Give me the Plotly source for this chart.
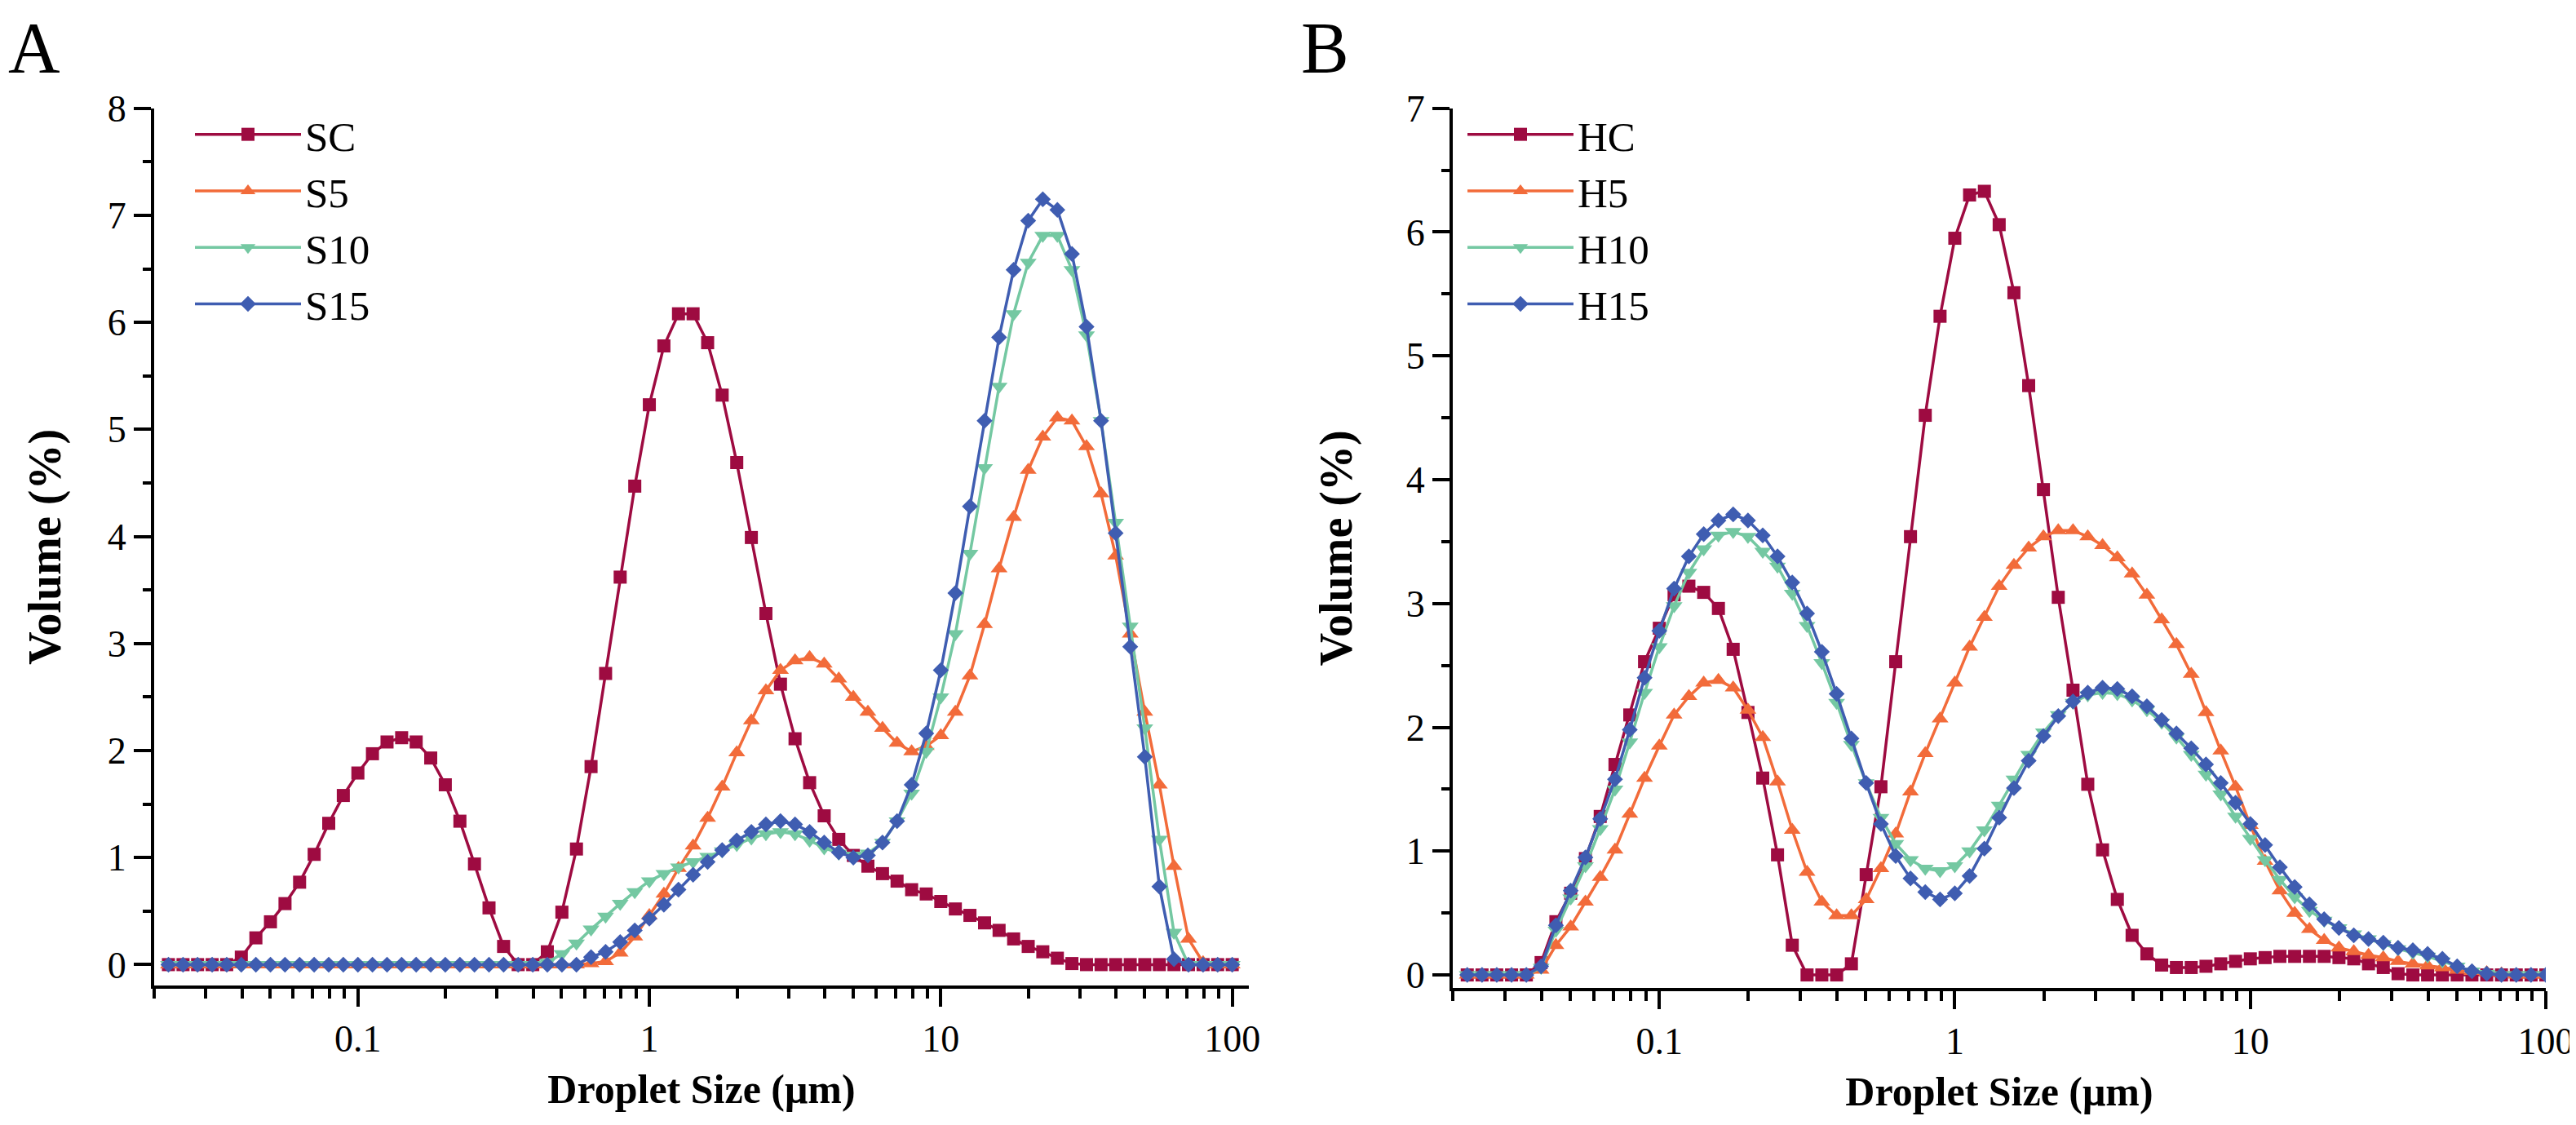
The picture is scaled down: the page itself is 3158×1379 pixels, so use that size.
import plotly.graph_objects as go

# ---------------- data ----------------
droplet_size_um = [
    0.02239, 0.02512, 0.02818, 0.03162, 0.03548, 0.03981, 0.04467, 0.05012, 0.05623, 0.06310,
    0.07079, 0.07943, 0.08913, 0.1, 0.1122, 0.1259, 0.1413, 0.1585, 0.1778, 0.1995,
    0.2239, 0.2512, 0.2818, 0.3162, 0.3548, 0.3981, 0.4467, 0.5012, 0.5623, 0.6310,
    0.7079, 0.7943, 0.8913, 1.0, 1.122, 1.259, 1.413, 1.585, 1.778, 1.995,
    2.239, 2.512, 2.818, 3.162, 3.548, 3.981, 4.467, 5.012, 5.623, 6.310,
    7.079, 7.943, 8.913, 10.0, 11.22, 12.59, 14.13, 15.85, 17.78, 19.95,
    22.39, 25.12, 28.18, 31.62, 35.48, 39.81, 44.67, 50.12, 56.23, 63.10,
    70.79, 79.43, 89.13, 100.0,
]

# Panel A
SC = [0, 0, 0, 0, 0,
      0.07, 0.25, 0.40, 0.57, 0.77, 1.03, 1.32, 1.58,
      1.79, 1.97, 2.08, 2.12, 2.08, 1.93, 1.68, 1.34,
      0.94, 0.53, 0.17, 0.0, 0.0, 0.12, 0.49, 1.08,
      1.85, 2.72, 3.62, 4.47, 5.23, 5.78, 6.08, 6.08,
      5.81, 5.32, 4.69, 3.99, 3.28, 2.62, 2.11, 1.70,
      1.39, 1.17, 1.02, 0.92, 0.85, 0.78, 0.70, 0.66,
      0.59, 0.52, 0.46, 0.39, 0.32, 0.24, 0.17, 0.12,
      0.06, 0.01, 0, 0, 0, 0, 0, 0, 0, 0, 0, 0, 0]
S5 = [0] * 29 + [
      0.01, 0.03, 0.11, 0.26, 0.46, 0.66, 0.90, 1.11,
      1.37, 1.66, 1.98, 2.28, 2.56, 2.75, 2.84, 2.87,
      2.81, 2.67, 2.50, 2.36, 2.21, 2.07, 1.99, 2.04,
      2.14, 2.36, 2.70, 3.18, 3.70, 4.18, 4.62, 4.93,
      5.11, 5.08, 4.84, 4.40, 3.82, 3.09, 2.36, 1.68,
      0.92, 0.24, 0.02, 0, 0]
S10 = [0] * 26 + [
      0.02, 0.10, 0.20, 0.33, 0.45, 0.57, 0.68, 0.78,
      0.85, 0.91, 0.96, 1.01, 1.06, 1.12, 1.18, 1.22,
      1.24, 1.22, 1.16, 1.09, 1.04, 1.02, 1.04, 1.14,
      1.34, 1.60, 1.99, 2.50, 3.09, 3.84, 4.64, 5.40,
      6.08, 6.56, 6.81, 6.81, 6.49, 5.88, 5.08, 4.13,
      3.16, 2.21, 1.17, 0.30, 0.0, 0, 0, 0]
S15 = [0] * 29 + [
      0.07, 0.12, 0.21, 0.32, 0.43, 0.56, 0.70, 0.84,
      0.96, 1.07, 1.16, 1.24, 1.31, 1.34, 1.31, 1.24,
      1.14, 1.05, 1.00, 1.02, 1.14, 1.34, 1.68, 2.16,
      2.75, 3.47, 4.28, 5.08, 5.86, 6.49, 6.95, 7.15,
      7.05, 6.64, 5.96, 5.08, 4.03, 2.97, 1.94, 0.73,
      0.05, 0, 0, 0, 0]

# Panel B
HC = [0, 0, 0, 0, 0,
      0.10, 0.43, 0.66, 0.94, 1.28, 1.70, 2.10, 2.53,
      2.80, 3.07, 3.14, 3.09, 2.96, 2.63, 2.12, 1.59,
      0.97, 0.24, 0.0, 0.0, 0.0, 0.09, 0.81, 1.52,
      2.53, 3.54, 4.52, 5.32, 5.95, 6.30, 6.33, 6.06,
      5.51, 4.76, 3.92, 3.05, 2.30, 1.54, 1.01, 0.61,
      0.32, 0.17, 0.08, 0.06, 0.06, 0.07, 0.09, 0.11,
      0.13, 0.14, 0.15, 0.15, 0.15, 0.15, 0.14, 0.13,
      0.09, 0.06, 0.01, 0, 0, 0, 0, 0, 0, 0, 0, 0, 0]
H5 = [0, 0, 0, 0, 0,
      0.04, 0.24, 0.39, 0.59, 0.79, 1.01, 1.30, 1.59,
      1.85, 2.10, 2.25, 2.36, 2.38, 2.32, 2.14, 1.92,
      1.56, 1.17, 0.83, 0.59, 0.48, 0.48, 0.61, 0.86,
      1.14, 1.48, 1.79, 2.07, 2.36, 2.65, 2.89, 3.14,
      3.31, 3.45, 3.54, 3.59, 3.59, 3.54, 3.47, 3.37,
      3.24, 3.07, 2.87, 2.67, 2.43, 2.12, 1.81, 1.52,
      1.21, 0.92, 0.68, 0.50, 0.37, 0.28, 0.22, 0.19,
      0.16, 0.14, 0.11, 0.09, 0.075, 0.06, 0.04, 0.03, 0.02, 0.01, 0, 0, 0]
H10 = [0, 0, 0, 0, 0,
       0.06, 0.36, 0.62, 0.88, 1.18, 1.50, 1.88, 2.28,
       2.65, 2.98, 3.25, 3.44, 3.55, 3.58, 3.54, 3.42,
       3.30, 3.08, 2.82, 2.52, 2.20, 1.86, 1.55, 1.27,
       1.06, 0.93, 0.86, 0.84, 0.88, 1.00, 1.17, 1.37,
       1.58, 1.78, 1.96, 2.10, 2.20, 2.26, 2.28, 2.27,
       2.22, 2.14, 2.04, 1.92, 1.78, 1.62, 1.46, 1.28,
       1.10, 0.93, 0.77, 0.63, 0.52, 0.44, 0.38, 0.33,
       0.29, 0.25, 0.21, 0.18, 0.15, 0.11, 0.07, 0.03, 0.01, 0, 0, 0, 0]
H15 = [0, 0, 0, 0, 0,
       0.07, 0.40, 0.68, 0.95, 1.26, 1.58, 1.98, 2.40,
       2.78, 3.12, 3.38, 3.56, 3.67, 3.72, 3.67, 3.55,
       3.38, 3.17, 2.92, 2.61, 2.27, 1.91, 1.55, 1.22,
       0.96, 0.78, 0.67, 0.61, 0.66, 0.80, 1.02, 1.27,
       1.51, 1.73, 1.93, 2.09, 2.21, 2.28, 2.32, 2.31,
       2.25, 2.17, 2.06, 1.95, 1.83, 1.70, 1.55, 1.39,
       1.22, 1.05, 0.87, 0.71, 0.57, 0.45, 0.38, 0.32,
       0.29, 0.26, 0.22, 0.20, 0.17, 0.13, 0.07, 0.03, 0.01, 0, 0, 0, 0]

major_ticks = [0.1, 1, 10, 100]
major_labels = ["0.1", "1", "10", "100"]
minor_ticks = [0.02, 0.03, 0.04, 0.05, 0.06, 0.07, 0.08, 0.09,
               0.2, 0.3, 0.4, 0.5, 0.6, 0.7, 0.8, 0.9,
               2, 3, 4, 5, 6, 7, 8, 9,
               20, 30, 40, 50, 60, 70, 80, 90]

# ---------------- styling ----------------
PAGE_W, PAGE_H = 3158, 1379
OFF = 8                      # default page margin around the figure div
W, H = PAGE_W - OFF, PAGE_H - OFF
FONT = "Liberation Serif, Times New Roman, serif"
COL = ["#9E0B41", "#F26B3A", "#74C8A2", "#3F5DB1"]
SYM = ["square", "triangle-up", "triangle-down", "diamond"]
SIZE = [16, 18, 18, 15]

fig = go.Figure()

panels = [
    (["SC", "S5", "S10", "S15"], [SC, S5, S10, S15], "x", "y", "legend"),
    (["HC", "H5", "H10", "H15"], [HC, H5, H10, H15], "x2", "y2", "legend2"),
]
for names, series, xa, ya, lg in panels:
    for i, (nm, vals) in enumerate(zip(names, series)):
        fig.add_trace(go.Scatter(
            x=droplet_size_um, y=vals, name=nm, mode="lines+markers",
            line=dict(color=COL[i], width=3.5),
            marker=dict(symbol=SYM[i], size=SIZE[i], color=COL[i], line=dict(width=0)),
            xaxis=xa, yaxis=ya, legend=lg,
        ))


def px_x(p):
    return (p - OFF) / W


def px_y(p):
    return 1 - (p - OFF) / H


def xaxis_cfg(domain, rng, anchor):
    return dict(
        domain=domain, type="log", range=rng, anchor=anchor, automargin=False,
        showline=True, linecolor="black", linewidth=4, mirror=False,
        showgrid=False, zeroline=False,
        tickmode="array", tickvals=major_ticks, ticktext=major_labels,
        ticks="outside", ticklen=22, tickwidth=4, tickcolor="black",
        minor=dict(tickmode="array", tickvals=minor_ticks, ticks="outside",
                   ticklen=12, tickwidth=4, tickcolor="black", showgrid=False),
        tickfont=dict(family=FONT, size=46, color="black"),
        title=dict(text="<b>Droplet Size (μm)</b>", standoff=20,
                   font=dict(family=FONT, size=50, color="black")),
    )


def yaxis_cfg(domain, rng, anchor, standoff):
    return dict(
        domain=domain, range=rng, anchor=anchor, automargin=False,
        showline=True, linecolor="black", linewidth=4, mirror=False,
        showgrid=False, zeroline=False,
        tickmode="linear", tick0=0, dtick=1,
        ticks="outside", ticklen=21, tickwidth=4, tickcolor="black",
        minor=dict(tickmode="linear", tick0=0, dtick=0.5, ticks="outside",
                   ticklen=10, tickwidth=4, tickcolor="black", showgrid=False),
        tickfont=dict(family=FONT, size=46, color="black"),
        title=dict(text="<b>Volume (%)</b>", standoff=standoff,
                   font=dict(family=FONT, size=56, color="black")),
    )


legend_font = dict(family=FONT, size=51, color="black")

fig.update_layout(
    width=W, height=H, autosize=False,
    margin=dict(l=0, r=0, t=0, b=0, autoexpand=False),
    paper_bgcolor="white", plot_bgcolor="white",
    xaxis=xaxis_cfg([px_x(189), px_x(1531)], [-1.69897, 2.0570], "y"),
    yaxis=yaxis_cfg([px_y(1208), px_y(132.7)], [-0.195, 8], "x", 40),
    xaxis2=xaxis_cfg([px_x(1781), px_x(3121)], [-1.69897, 2.0], "y2"),
    yaxis2=yaxis_cfg([px_y(1211), px_y(132.7)], [-0.105, 7], "x2", 49),
    legend=dict(x=px_x(234), y=px_y(125), xanchor="left", yanchor="top",
                font=legend_font, bgcolor="rgba(0,0,0,0)",
                itemwidth=130, tracegroupgap=0),
    legend2=dict(x=px_x(1794), y=px_y(125), xanchor="left", yanchor="top",
                 font=legend_font, bgcolor="rgba(0,0,0,0)",
                 itemwidth=130, tracegroupgap=0),
    showlegend=True,
    annotations=[
        dict(text="A", x=0, y=1, xref="paper", yref="paper",
             xanchor="left", yanchor="top", showarrow=False,
             font=dict(family=FONT, size=88, color="black")),
        dict(text="B", x=px_x(1593), y=1, xref="paper", yref="paper",
             xanchor="left", yanchor="top", showarrow=False,
             font=dict(family=FONT, size=88, color="black")),
    ],
)

fig.write_html("out.html")
